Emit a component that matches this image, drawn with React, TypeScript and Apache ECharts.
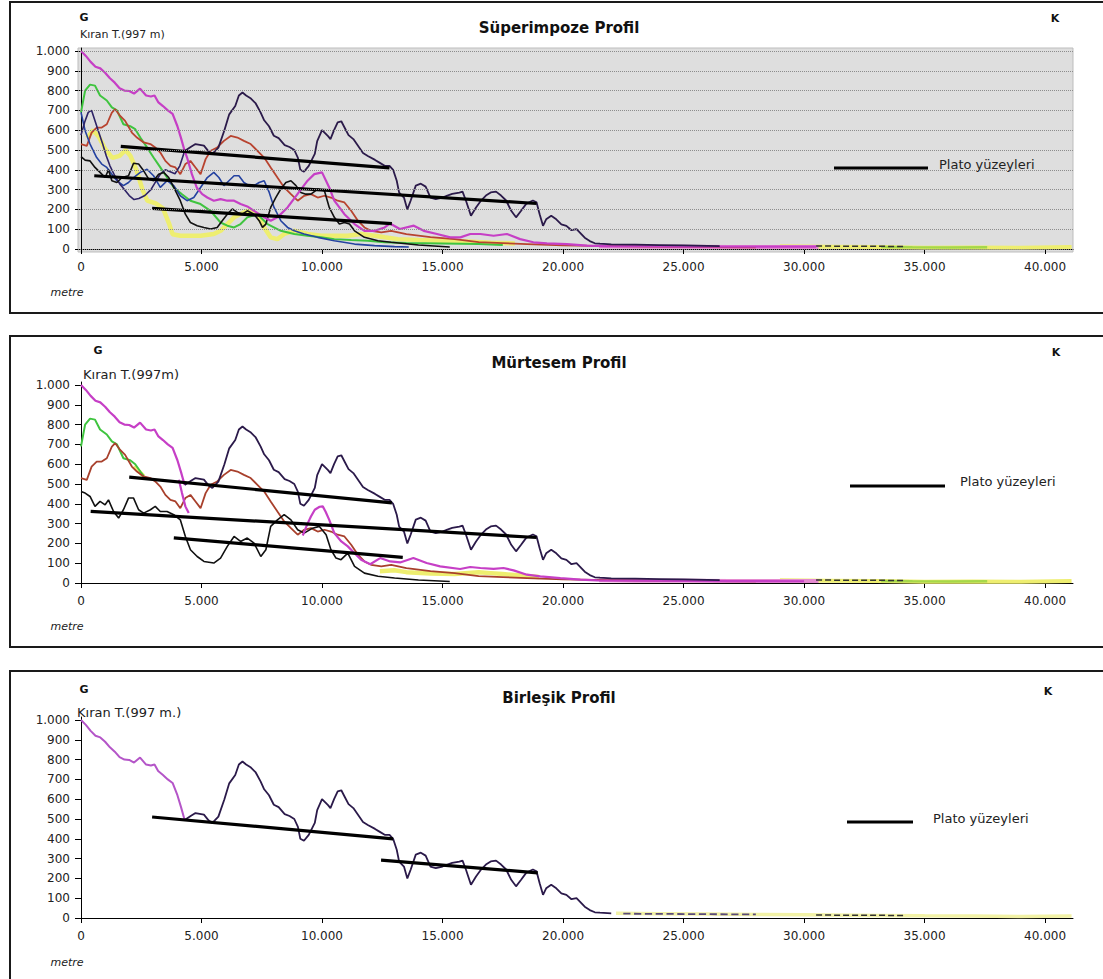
import React, { useEffect, useRef } from "react";
import * as echarts from "echarts";

// ---------- tick values ----------
const yTicks = [0, 100, 200, 300, 400, 500, 600, 700, 800, 900, 1000];
const xTicks = [0, 5000, 10000, 15000, 20000, 25000, 30000, 35000, 40000];

// ---------- shared profiles ----------
const magentaUpper: number[][] = [
  [0, 1000], [200, 975], [400, 945], [600, 920], [800, 912], [1000, 890], [1200, 862], [1400, 840],
  [1600, 812], [1800, 800], [2000, 798], [2200, 785], [2450, 810], [2700, 775], [2900, 770], [3050, 775],
  [3200, 742], [3400, 722], [3600, 700], [3800, 682], [4000, 620], [4150, 560], [4300, 495],
];
const magentaLowerSup: number[][] = [
  [4300, 495], [4400, 462], [4600, 378], [4800, 311], [5030, 277], [5240, 260], [5510, 244], [5790, 252],
  [6070, 244], [6350, 244], [6620, 227], [6900, 215], [7180, 193], [7600, 160], [7870, 143], [8150, 160],
  [8570, 210], [9120, 300], [9400, 345], [9680, 378], [10000, 387], [10300, 311], [10510, 244], [10930, 176],
  [11350, 126], [11760, 92], [12180, 92], [12600, 109], [12820, 129], [13230, 101], [13810, 118], [14220, 92],
  [14770, 76], [15320, 59], [15740, 59], [16150, 76], [16570, 76], [17120, 67], [17670, 76], [18220, 50],
  [18770, 34], [19330, 29], [20160, 25], [20990, 17], [21820, 15], [23000, 14], [25000, 12], [27000, 12],
  [29000, 12], [30500, 12],
];
const magentaTailMur: number[][] = [
  [4060, 521], [4190, 454], [4330, 387], [4470, 353],
];
const magentaSecondMur: number[][] = [
  [9200, 240], [9400, 300], [9540, 336], [9700, 370], [9900, 385], [10030, 387], [10150, 360], [10300, 319],
  [10510, 252], [10800, 210], [11070, 185], [11350, 150], [11620, 118], [12000, 95], [12410, 126], [12830, 109],
  [13240, 104], [13790, 126], [14340, 101], [14900, 84], [15730, 71], [16150, 81], [16570, 76], [17120, 71],
  [17530, 76], [17950, 64], [18500, 42], [19060, 34], [19890, 25], [20720, 17], [21410, 13], [23000, 12],
  [25000, 11], [27000, 10], [30000, 9],
];
const pinkBand: number[][] = [
  [21500, 14], [23000, 12], [25000, 11], [27000, 10], [29000, 10], [30600, 10],
];
const darkPurple: number[][] = [
  [4300, 495], [4550, 515], [4750, 530], [5100, 522], [5300, 492], [5450, 480], [5700, 512], [5950, 600],
  [6150, 680], [6400, 722], [6550, 775], [6700, 790], [6850, 775], [7050, 760], [7250, 735], [7450, 690],
  [7600, 650], [7800, 620], [8000, 572], [8200, 560], [8450, 525], [8650, 515], [8850, 500], [9000, 460],
  [9100, 400], [9250, 390], [9450, 420], [9700, 480], [9800, 545], [10000, 600], [10250, 570], [10350, 555],
  [10500, 600], [10650, 640], [10800, 645], [10950, 610], [11100, 575], [11300, 555], [11500, 520], [11700, 485],
  [11900, 470], [12200, 450], [12400, 435], [12600, 420], [12800, 420], [12950, 400], [13100, 345], [13200, 285],
  [13400, 260], [13540, 200], [13680, 245], [13890, 320], [14100, 330], [14300, 315], [14500, 260], [14720, 252],
  [15000, 260], [15200, 270], [15400, 278], [15700, 285], [15830, 290], [15970, 245], [16180, 168], [16390, 210],
  [16600, 245], [16800, 270], [17000, 286], [17220, 290], [17430, 270], [17640, 245], [17850, 193], [18050, 160],
  [18260, 193], [18470, 228], [18750, 245], [18900, 236], [19030, 176], [19170, 117], [19300, 150], [19510, 168],
  [19720, 150], [19930, 125], [20140, 117], [20350, 95], [20560, 100], [20700, 83], [20900, 57], [21110, 40],
  [21320, 29], [21530, 27], [22000, 24], [23000, 22], [24000, 20], [25000, 18], [26500, 15],
];
const green: number[][] = [
  [0, 690], [170, 800], [375, 830], [580, 825], [790, 775], [1070, 750], [1280, 715], [1490, 700],
  [1760, 630], [2040, 620], [2250, 605], [2460, 563], [2740, 513], [3010, 462], [3290, 412], [3570, 361],
  [3850, 311], [4190, 277], [4540, 244], [4960, 227], [5375, 193], [5790, 134], [6070, 118], [6350, 109],
  [6620, 126], [6900, 160], [7320, 176], [7740, 126], [8290, 92], [8850, 76], [9400, 67], [9960, 59],
  [10510, 50], [11210, 45], [11900, 42], [12600, 34], [13500, 30], [15000, 28], [16500, 25], [17500, 20],
];
const greenShort: number[][] = [
  [0, 690], [170, 800], [375, 830], [580, 825], [790, 775], [1070, 750], [1280, 715], [1490, 700],
  [1760, 630], [2040, 620], [2250, 600], [2460, 563], [2600, 540],
];
const red: number[][] = [
  [0, 530], [240, 521], [440, 588], [650, 613], [860, 613], [1070, 630], [1280, 689], [1420, 706],
  [1625, 672], [1830, 647], [2110, 588], [2320, 563], [2600, 538], [2880, 530], [3080, 513], [3290, 487],
  [3500, 445], [3710, 420], [3920, 412], [4120, 378], [4330, 429], [4540, 445], [4750, 412], [4960, 378],
  [5170, 454], [5380, 496], [5650, 513], [5930, 546], [6210, 571], [6490, 563], [6760, 546], [7040, 530],
  [7320, 496], [7600, 462], [7870, 412], [8150, 361], [8430, 311], [8710, 277], [8990, 244], [9260, 269],
  [9540, 277], [9820, 260], [10100, 269], [10370, 260], [10650, 244], [10930, 235], [11210, 193], [11490, 143],
  [11760, 109], [12040, 92], [12460, 84], [12870, 92], [13500, 75], [14500, 60], [15500, 50], [16500, 35],
  [17500, 30], [18500, 25], [20000, 18], [22000, 15], [24000, 12], [26000, 10], [28000, 8],
];
const blue: number[][] = [
  [0, 690], [170, 597], [375, 530], [650, 462], [860, 429], [1070, 412], [1280, 378], [1490, 345],
  [1760, 320], [1970, 336], [2180, 361], [2460, 387], [2740, 403], [3010, 370], [3290, 311], [3570, 345],
  [3850, 320], [4120, 269], [4400, 244], [4680, 260], [4960, 311], [5240, 361], [5510, 387], [5720, 361],
  [5930, 320], [6140, 345], [6350, 370], [6550, 370], [6760, 336], [6970, 320], [7180, 320], [7390, 336],
  [7600, 345], [7810, 286], [8010, 210], [8290, 143], [8570, 109], [8850, 92], [9260, 76], [9820, 59],
  [10510, 42], [11350, 25], [12180, 17], [13010, 12], [13600, 10],
];
const navy: number[][] = [
  [0, 575], [150, 640], [300, 690], [440, 700], [600, 640], [750, 585], [900, 530], [1050, 470],
  [1200, 420], [1400, 370], [1600, 330], [1800, 300], [2000, 270], [2200, 250], [2400, 255], [2650, 270],
  [2900, 300], [3100, 340], [3300, 380], [3500, 400], [3700, 390], [3900, 380], [4100, 420], [4300, 495],
];
const blackSup: number[][] = [
  [0, 466], [170, 449], [375, 445], [580, 412], [790, 387], [1000, 361], [1140, 400], [1280, 345],
  [1490, 336], [1700, 361], [1970, 370], [2180, 433], [2390, 429], [2600, 395], [2810, 353], [3010, 345],
  [3220, 378], [3430, 387], [3640, 361], [3850, 311], [4120, 244], [4330, 176], [4540, 134], [4820, 118],
  [5100, 109], [5380, 101], [5650, 109], [5860, 143], [6070, 176], [6280, 202], [6490, 185], [6690, 176],
  [6900, 193], [7180, 176], [7390, 143], [7530, 109], [7670, 126], [7870, 210], [8080, 260], [8290, 303],
  [8500, 336], [8710, 345], [8920, 320], [9120, 286], [9330, 277], [9540, 277], [9820, 303], [10100, 294],
  [10300, 210], [10510, 160], [10720, 126], [10930, 134], [11140, 126], [11350, 92], [11760, 59], [12320, 42],
  [12870, 34], [14000, 20], [15300, 10],
];
const blackMur: number[][] = [
  [0, 462], [170, 454], [375, 437], [580, 387], [790, 412], [1000, 395], [1140, 420], [1350, 361],
  [1560, 328], [1760, 370], [1970, 429], [2180, 429], [2390, 370], [2600, 353], [2880, 370], [3080, 387],
  [3290, 361], [3570, 361], [3850, 345], [4120, 319], [4330, 235], [4540, 168], [4820, 134], [5100, 109],
  [5510, 101], [5790, 126], [6070, 185], [6350, 235], [6620, 210], [6900, 227], [7180, 202], [7460, 134],
  [7670, 168], [7870, 286], [8150, 319], [8430, 345], [8710, 319], [8990, 269], [9260, 252], [9610, 277],
  [9890, 286], [10170, 244], [10370, 168], [10580, 126], [10790, 118], [11070, 151], [11350, 84], [11760, 50],
  [12320, 34], [13010, 25], [14000, 15], [15300, 8],
];
const yellowSup: number[][] = [
  [250, 560], [500, 600], [750, 565], [1000, 505], [1300, 460], [1600, 470], [1850, 500], [2050, 470],
  [2300, 400], [2550, 300], [2750, 245], [3100, 230], [3400, 205], [3650, 130], [3800, 75], [4120, 67],
  [4960, 67], [5510, 76], [5790, 92], [6350, 160], [6900, 193], [7320, 176], [7600, 109], [7870, 59],
  [8150, 50], [8430, 76], [8850, 92], [9400, 76], [9960, 67], [10510, 67], [11070, 67], [11620, 76],
  [12180, 67], [12600, 59], [13150, 50], [14000, 45], [15000, 40], [16000, 38], [17000, 32], [18000, 28],
];
const yellowMur: number[][] = [
  [12400, 60], [13000, 65], [13500, 55], [14500, 48], [15500, 45], [16500, 55], [17000, 50], [17500, 45],
  [18000, 40], [19000, 30],
];
const yellowMurHi: number[][] = [
  [2200, 590], [2400, 565], [2600, 540],
];
const yellowTail: number[][] = [
  [29000, 14], [31000, 12], [33000, 10], [35000, 7], [37000, 8], [39000, 6], [41100, 10],
];
const yellowTailBir: number[][] = [
  [22200, 24], [24000, 22], [26000, 20], [28000, 18], [30000, 16], [33000, 13], [35000, 11], [37000, 10],
  [39000, 8], [41100, 10],
];
const greenTail: number[][] = [
  [33200, 10], [34500, 9], [36000, 8], [37600, 9],
];
const darkDash: number[][] = [
  [30500, 15], [34200, 13],
];
const purpleDashBir: number[][] = [
  [22500, 22], [28000, 18],
];

// ---------- plateau surfaces ----------
const platSup: number[][][] = [
  [[1650, 518], [12800, 410]],
  [[550, 370], [18900, 230]],
  [[2950, 205], [12900, 128]],
];
const platMur: number[][][] = [
  [[2000, 535], [12900, 405]],
  [[400, 362], [18900, 230]],
  [[3850, 228], [13350, 130]],
];
const platBir: number[][][] = [
  [[2950, 510], [12950, 400]],
  [[12450, 292], [18950, 228]],
];

// ---------- texts ----------
const titles = ["Süperimpoze Profil", "Mürtesem Profil", "Birleşik Profil"];
const summitLabels = ["Kıran T.(997 m)", "Kıran T.(997m)", "Kıran T.(997 m.)"];
const legendText = "Plato yüzeyleri";

const C = {
  magenta: "#c63fc6",
  purple: "#2b1a4a",
  green: "#3fc43f",
  red: "#b8432f",
  blue: "#2442a0",
  navy: "#2e2366",
  black: "#111111",
  yellow: "#eeee70",
  pink: "#e58ad0",
};

const fmt = (v: number) => String(v).replace(/\B(?=(\d{3})+(?!\d))/g, ".");

const GRID_TOPS = [48, 382, 717];

function App() {
  const ref = useRef<HTMLDivElement>(null);
  useEffect(() => {
    if (!ref.current) return;
    const chart = echarts.init(ref.current, undefined, { renderer: "svg" });

    const grids = GRID_TOPS.map((t, i) => ({
      left: 78,
      top: t,
      width: 995,
      height: 204,
      show: i === 0,
      backgroundColor: i === 0 ? "#dedede" : "transparent",
      borderColor: i === 0 ? "#bdbdbd" : "transparent",
      borderWidth: i === 0 ? 1 : 0,
      containLabel: false,
    }));

    const xAxes = GRID_TOPS.map((_, i) => ({
      type: "value",
      gridIndex: i,
      min: -125,
      max: 41160,
      axisLine: { show: true, lineStyle: { color: "#000", width: 1 } },
      axisTick: { show: true, length: 5, customValues: xTicks, lineStyle: { color: "#000" } },
      axisLabel: {
        customValues: xTicks,
        formatter: (v: number) => fmt(v),
        fontFamily: "DejaVu Sans",
        fontSize: 12,
        color: "#222",
        margin: 9,
      },
      splitLine: { show: false },
    }));

    const yAxes = GRID_TOPS.map((_, i) => ({
      type: "value",
      gridIndex: i,
      min: -15,
      max: 1015,
      axisLine: { show: true, lineStyle: { color: "#000", width: 1 } },
      axisTick: { show: true, length: 6, customValues: yTicks, lineStyle: { color: "#000" } },
      axisLabel: {
        customValues: yTicks,
        formatter: (v: number) => fmt(v),
        fontFamily: "DejaVu Sans",
        fontSize: 12,
        color: "#222",
        margin: 8,
      },
      splitLine: { show: false },
    }));

    const ln = (data: number[][], g: number, color: string, width = 1.6, extra: any = {}) => ({
      type: "line",
      xAxisIndex: g,
      yAxisIndex: g,
      data,
      showSymbol: false,
      symbol: "none",
      silent: true,
      lineStyle: { color, width, ...(extra.lineStyle || {}) },
      ...(extra.rest || {}),
    });

    const plat = (segs: number[][][], g: number) =>
      segs.map((s) => ln(s, g, "#000", 3.2));

    const gridMark = {
      silent: true,
      symbol: "none",
      label: { show: false },
      lineStyle: { type: "dotted", color: "#8c8c8c", width: 1 },
      data: yTicks.map((v) => ({ yAxis: v })),
    };

    const series: any[] = [
      // panel 1
      ln(yellowSup, 0, C.yellow, 4.5, { rest: { markLine: gridMark } }),
      ln(yellowTail, 0, C.yellow, 4),
      ln(pinkBand, 0, C.pink, 4),
      ln(greenTail, 0, "#a6d84a", 2.5),
      ln(darkDash, 0, "#333", 1.5, { lineStyle: { type: "dashed" } }),
      ln(green, 0, C.green, 2),
      ln(red, 0, C.red, 1.8),
      ln(blue, 0, C.blue, 1.6),
      ln(navy, 0, C.navy, 1.6),
      ln(blackSup, 0, C.black, 1.6),
      ln(magentaUpper, 0, C.magenta, 2.2),
      ln(magentaLowerSup, 0, C.magenta, 2.2),
      ln(darkPurple, 0, C.purple, 1.8),
      ...plat(platSup, 0),
      // panel 2
      ln(yellowMur, 1, C.yellow, 4.5),
      ln(yellowMurHi, 1, C.yellow, 4),
      ln(yellowTail, 1, C.yellow, 4),
      ln(pinkBand, 1, C.pink, 4),
      ln(greenTail, 1, "#a6d84a", 2.5),
      ln(darkDash, 1, "#333", 1.5, { lineStyle: { type: "dashed" } }),
      ln(greenShort, 1, C.green, 2),
      ln(red, 1, "#a8402c", 1.8),
      ln(blackMur, 1, C.black, 1.6),
      ln(magentaUpper, 1, C.magenta, 2.2),
      ln(magentaTailMur, 1, C.magenta, 2.2),
      ln(magentaSecondMur, 1, C.magenta, 2.2),
      ln(darkPurple, 1, C.purple, 1.8),
      ...plat(platMur, 1),
      // panel 3
      ln(yellowTailBir, 2, "#f2f2a6", 3.5),
      ln(purpleDashBir, 2, "#5a4a7a", 1.8, { lineStyle: { type: "dashed" } }),
      ln(darkDash, 2, "#333", 1.5, { lineStyle: { type: "dashed" } }),
      ln(magentaUpper, 2, "#b455c8", 2),
      ln(darkPurple.filter((p) => p[0] <= 22500), 2, C.purple, 1.8),
      ...plat(platBir, 2),
    ];

    const boxTops = [2, 336, 671];
    const titleYs = [28, 363, 698];
    const gPos = [[84, 17], [98, 350], [84, 689]];
    const kPos = [[1055, 18], [1056, 352], [1048, 691]];
    const summitPos = [[80, 34, 11], [83, 374, 13], [77, 712, 13]];
    const metreYs = [292, 626, 962];
    const legendPos = [
      [834, 928, 168, 939, 164],
      [850, 945, 486, 960, 481],
      [847, 913, 822, 933, 818],
    ];

    const graphic: any[] = [];
    for (let i = 0; i < 3; i++) {
      graphic.push({
        type: "rect",
        shape: { x: 10, y: boxTops[i], width: 1200, height: 311 },
        style: { fill: "none", stroke: "#1a1a1a", lineWidth: 2 },
        z: -10,
      });
      graphic.push({
        type: "text",
        x: 559,
        y: titleYs[i],
        style: {
          text: titles[i],
          font: "bold 15px 'DejaVu Sans'",
          fill: "#111",
          textAlign: "center",
          textVerticalAlign: "middle",
        },
      });
      graphic.push({
        type: "text",
        x: gPos[i][0],
        y: gPos[i][1],
        style: {
          text: "G",
          font: "bold 11px 'DejaVu Sans'",
          fill: "#111",
          textAlign: "center",
          textVerticalAlign: "middle",
        },
      });
      graphic.push({
        type: "text",
        x: kPos[i][0],
        y: kPos[i][1],
        style: {
          text: "K",
          font: "bold 11px 'DejaVu Sans'",
          fill: "#111",
          textAlign: "center",
          textVerticalAlign: "middle",
        },
      });
      graphic.push({
        type: "text",
        x: summitPos[i][0],
        y: summitPos[i][1],
        style: {
          text: summitLabels[i],
          font: `${summitPos[i][2]}px 'DejaVu Sans'`,
          fill: "#222",
          textAlign: "left",
          textVerticalAlign: "middle",
        },
      });
      graphic.push({
        type: "text",
        x: 67,
        y: metreYs[i],
        style: {
          text: "metre",
          font: "italic 11px 'DejaVu Sans'",
          fill: "#222",
          textAlign: "center",
          textVerticalAlign: "middle",
        },
      });
      const lp = legendPos[i];
      graphic.push({
        type: "line",
        shape: { x1: lp[0], y1: lp[2], x2: lp[1], y2: lp[2] },
        style: { stroke: "#000", lineWidth: 3 },
        z: 10,
      });
      graphic.push({
        type: "text",
        x: lp[3],
        y: lp[4],
        style: {
          text: legendText,
          font: "13px 'DejaVu Sans'",
          fill: "#222",
          textAlign: "left",
          textVerticalAlign: "middle",
        },
        z: 10,
      });
    }

    chart.setOption({
      animation: false,
      backgroundColor: "#ffffff",
      grid: grids,
      xAxis: xAxes,
      yAxis: yAxes,
      series,
      graphic,
    });
    return () => chart.dispose();
  }, []);
  return (
    <div
      ref={ref}
      style={{ position: "absolute", left: 0, top: 0, width: 1103, height: 979 }}
    />
  );
}

export default App;
